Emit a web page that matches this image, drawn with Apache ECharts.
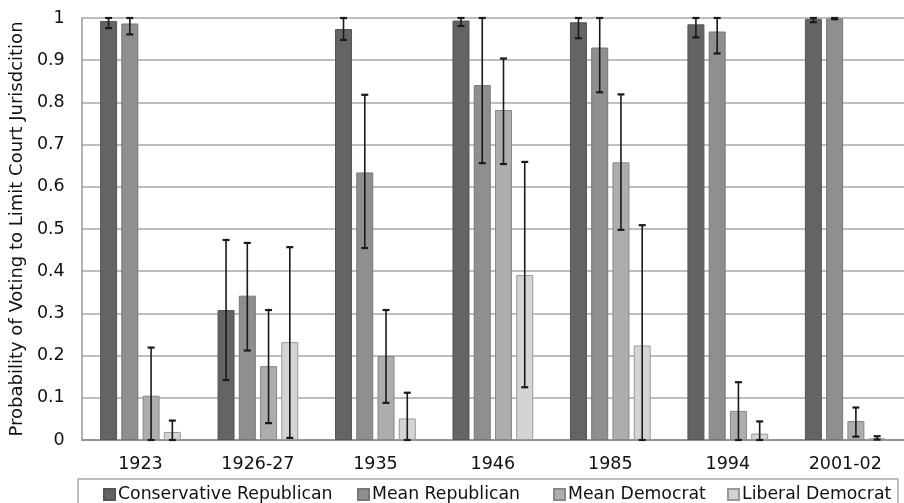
<!DOCTYPE html>
<html>
<head>
<meta charset="utf-8">
<script src="https://cdn.jsdelivr.net/npm/echarts@6/dist/echarts.min.js"></script>
<style>
  html, body { margin: 0; padding: 0; background: #fff; }
  #chart { width: 904px; height: 503px; }
</style>
</head>
<body>
<div id="chart"></div>
<script>
// Congress sessions
const sessions = ['1923', '1926-27', '1935', '1946', '1985', '1994', '2001-02'];

const seriesNames = ['Conservative Republican', 'Mean Republican', 'Mean Democrat', 'Liberal Democrat'];

// Predicted probabilities
const consRep = [0.993, 0.308, 0.974, 0.994, 0.990, 0.985, 0.998];
const meanRep = [0.987, 0.342, 0.634, 0.841, 0.930, 0.968, 0.999];
const meanDem = [0.105, 0.175, 0.199, 0.782, 0.658, 0.069, 0.045];
const libDem  = [0.019, 0.232, 0.051, 0.391, 0.224, 0.015, 0.004];

// Confidence interval bounds
const consRepLow  = [0.976, 0.142, 0.948, 0.981, 0.952, 0.954, 0.990];
const consRepHigh = [1.000, 0.474, 1.000, 1.000, 1.000, 1.000, 1.000];
const meanRepLow  = [0.961, 0.212, 0.455, 0.656, 0.824, 0.916, 0.997];
const meanRepHigh = [1.000, 0.467, 0.818, 1.000, 1.000, 1.000, 1.000];
const meanDemLow  = [0.000, 0.040, 0.088, 0.654, 0.498, 0.000, 0.008];
const meanDemHigh = [0.219, 0.308, 0.308, 0.904, 0.819, 0.137, 0.077];
const libDemLow   = [0.000, 0.005, 0.000, 0.125, 0.000, 0.000, 0.001];
const libDemHigh  = [0.046, 0.457, 0.112, 0.659, 0.509, 0.044, 0.009];

// Axis tick labels
const yTicks = ['0', '0.1', '0.2', '0.3', '0.4', '0.5', '0.6', '0.7', '0.8', '0.9', '1'];

const values = [consRep, meanRep, meanDem, libDem];
const lows = [consRepLow, meanRepLow, meanDemLow, libDemLow];
const highs = [consRepHigh, meanRepHigh, meanDemHigh, libDemHigh];

const fills = ['#646464', '#8f8f8f', '#adadad', '#d4d4d4'];
const borders = ['#555555', '#777777', '#888888', '#999999'];

const FONT = 'DejaVu Sans';
const BAR_W = 17;
const GAP_RATIO = 0.25;
const STEP = BAR_W * (1 + GAP_RATIO);
const CAP = 3.5;

const barSeries = seriesNames.map((name, i) => ({
  name: name,
  type: 'bar',
  data: values[i],
  barWidth: BAR_W,
  barGap: (GAP_RATIO * 100) + '%',
  itemStyle: { color: fills[i], borderColor: borders[i], borderWidth: 1 },
  emphasis: { disabled: true },
  z: 2
}));

const errSeries = seriesNames.map((name, i) => ({
  type: 'custom',
  data: lows[i].map((lo, k) => [k, lo, highs[i][k]]),
  encode: { x: 0, y: [1, 2] },
  z: 5,
  silent: true,
  renderItem: function (params, api) {
    const x = api.coord([api.value(0), 0])[0] + (i - 1.5) * STEP;
    const yLo = api.coord([api.value(0), api.value(1)])[1];
    const yHi = api.coord([api.value(0), api.value(2)])[1];
    const st = { stroke: '#1a1a1a', lineWidth: 1.6 };
    const cap = { stroke: '#1a1a1a', lineWidth: 2.2 };
    return {
      type: 'group',
      children: [
        { type: 'line', shape: { x1: x, y1: yLo, x2: x, y2: yHi }, style: st },
        { type: 'line', shape: { x1: x - CAP, y1: yHi, x2: x + CAP, y2: yHi }, style: cap },
        { type: 'line', shape: { x1: x - CAP, y1: yLo, x2: x + CAP, y2: yLo }, style: cap }
      ]
    };
  }
}));

const legendLefts = [103, 357, 553, 727];
const legends = seriesNames.map((name, i) => ({
  data: [name],
  left: legendLefts[i],
  top: 486,
  itemWidth: 11,
  itemHeight: 11,
  itemGap: 0,
  padding: 0,
  icon: 'rect',
  selectedMode: false,
  textStyle: { fontFamily: FONT, fontSize: 17.3, color: '#111111', padding: [0, 0, 0, -2] }
}));

const chart = echarts.init(document.getElementById('chart'), null, { renderer: 'canvas' });
chart.setOption({
  backgroundColor: '#ffffff',
  animation: false,
  textStyle: { fontFamily: FONT },
  grid: { left: 80, right: 0, top: 18, bottom: 63, containLabel: false },
  legend: legends,
  graphic: [{
    type: 'rect',
    shape: { x: 78, y: 479, width: 820, height: 40 },
    style: { fill: 'none', stroke: '#aaaaaa', lineWidth: 1.5 },
    silent: true
  }],
  xAxis: {
    type: 'category',
    data: sessions,
    axisTick: { show: false },
    axisLine: { lineStyle: { color: '#888888', width: 1.5 } },
    axisLabel: { fontFamily: FONT, fontSize: 17.5, color: '#111111', margin: 15 }
  },
  yAxis: {
    type: 'value',
    min: 0,
    max: 1,
    interval: 0.1,
    name: 'Probability of Voting to Limit Court Jurisdcition',
    nameLocation: 'middle',
    nameGap: 48,
    nameTextStyle: { fontFamily: FONT, fontSize: 18, color: '#111111' },
    axisLine: { show: true, lineStyle: { color: '#999999', width: 1.5 } },
    axisTick: { show: false },
    splitLine: { lineStyle: { color: '#a8a8a8', width: 1.5 } },
    axisLabel: {
      fontFamily: FONT, fontSize: 17.5, color: '#111111', margin: 17,
      formatter: function (v) { return yTicks[Math.round(v * 10)]; }
    }
  },
  series: barSeries.concat(errSeries)
});
</script>
</body>
</html>
